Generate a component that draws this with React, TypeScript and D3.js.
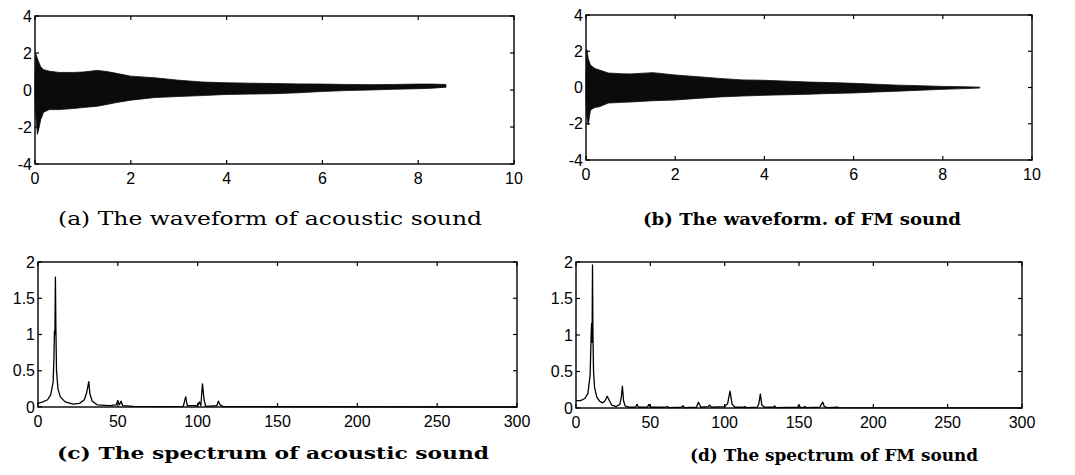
import React from "react";
import * as d3 from "d3";

// ---------- data ----------
const waveTicksX = [0, 2, 4, 6, 8, 10];
const waveTicksY = [-4, -2, 0, 2, 4];
const specTicksX = [0, 50, 100, 150, 200, 250, 300];
const specTicksY = [0, 0.5, 1, 1.5, 2];
const specTickLabelsY = ["0", "0.5", "1", "1.5", "2"];

// (a) acoustic waveform envelope
const waveATime = [0, 0.02, 0.05, 0.08, 0.12, 0.18, 0.3, 0.5, 0.8, 1.0, 1.3, 1.5, 1.7, 2.0, 2.5, 3.0, 3.5, 4.0, 4.5, 5.0, 5.5, 6.0, 6.5, 7.0, 7.5, 8.0, 8.3, 8.58];
const waveAUpper = [0.4, 1.93, 1.7, 1.5, 1.25, 1.1, 1.02, 0.95, 0.95, 0.97, 1.06, 1.0, 0.9, 0.75, 0.66, 0.53, 0.43, 0.39, 0.37, 0.35, 0.33, 0.32, 0.3, 0.29, 0.3, 0.32, 0.32, 0.3];
const waveALower = [-0.4, -1.5, -2.4, -2.1, -1.6, -1.2, -1.06, -1.06, -1.0, -0.95, -0.88, -0.78, -0.68, -0.55, -0.41, -0.35, -0.3, -0.24, -0.22, -0.2, -0.15, -0.08, -0.03, 0.0, 0.04, 0.07, 0.1, 0.15];

// (b) FM waveform envelope
const waveBTime = [0, 0.02, 0.05, 0.1, 0.2, 0.3, 0.5, 0.8, 1.0, 1.5, 2.0, 2.5, 3.0, 3.5, 4.0, 4.5, 5.0, 5.5, 6.0, 6.5, 7.0, 7.5, 8.0, 8.5, 8.83];
const waveBUpper = [0.5, 2.07, 1.6, 1.24, 1.05, 0.97, 0.8, 0.76, 0.75, 0.82, 0.69, 0.6, 0.5, 0.42, 0.4, 0.35, 0.3, 0.27, 0.23, 0.18, 0.13, 0.1, 0.06, 0.04, 0.02];
const waveBLower = [-0.5, -1.6, -2.07, -1.24, -1.1, -1.06, -0.86, -0.82, -0.8, -0.73, -0.69, -0.6, -0.52, -0.47, -0.43, -0.4, -0.37, -0.33, -0.3, -0.25, -0.2, -0.15, -0.1, -0.06, -0.03];

// (c) acoustic spectrum
const specCFreq = [0, 3, 6, 8, 9.5, 10.0, 10.3, 10.6, 10.9, 11.2, 11.6, 12.5, 14, 17, 22, 26, 29, 30.5, 31.8, 32.5, 34, 37, 45, 49, 50, 51, 52, 53, 60, 80, 91, 92.5, 93.5, 100, 101, 102, 103, 104, 105, 112, 113, 114, 116, 300];
const specCMag = [0.05, 0.07, 0.1, 0.17, 0.35, 0.7, 1.05, 1.0, 1.79, 1.1, 0.5, 0.25, 0.14, 0.07, 0.04, 0.05, 0.1, 0.2, 0.35, 0.18, 0.08, 0.03, 0.02, 0.03, 0.09, 0.03, 0.08, 0.02, 0.01, 0.005, 0.01, 0.14, 0.02, 0.02, 0.07, 0.02, 0.32, 0.1, 0.01, 0.02, 0.08, 0.03, 0.005, 0.0];

// (d) FM spectrum
const specDFreq = [0, 3, 6, 8, 9.5, 10.2, 10.5, 10.8, 11.1, 11.4, 11.8, 12.5, 14, 16, 18, 19.5, 21, 22.5, 24, 27, 29.5, 30.5, 31.2, 32, 33, 36, 40, 41, 42, 48, 49, 50, 60.5, 61.5, 62.5, 71, 72, 73, 81, 82.4, 84, 89, 90, 91, 100, 102, 103.6, 105, 107, 113, 113.6, 114.5, 122, 123, 124, 125, 127, 133, 133.6, 134.5, 149, 150, 151, 153.5, 154, 155, 164, 165, 166, 167, 169, 176, 177, 300];
const specDMag = [0.1, 0.1, 0.13, 0.2, 0.45, 1.0, 1.16, 0.9, 1.96, 1.0, 0.5, 0.28, 0.15, 0.09, 0.07, 0.1, 0.16, 0.1, 0.04, 0.02, 0.05, 0.15, 0.3, 0.1, 0.03, 0.01, 0.01, 0.05, 0.01, 0.01, 0.05, 0.01, 0.01, 0.02, 0.005, 0.01, 0.03, 0.005, 0.01, 0.08, 0.01, 0.02, 0.04, 0.01, 0.02, 0.06, 0.23, 0.05, 0.01, 0.01, 0.02, 0.005, 0.01, 0.06, 0.19, 0.04, 0.01, 0.01, 0.03, 0.005, 0.01, 0.04, 0.005, 0.01, 0.02, 0.005, 0.01, 0.05, 0.08, 0.02, 0.005, 0.01, 0.005, 0.003];

const captions = [
  "(a)  The waveform of acoustic sound",
  "(b) The waveform. of FM sound",
  "(c) The spectrum of acoustic sound",
  "(d) The spectrum of FM sound",
];

// ---------- layout ----------
type Box = { x0: number; x1: number; y0: number; y1: number };
const boxA: Box = { x0: 35, x1: 514, y0: 16, y1: 164 };
const boxB: Box = { x0: 586, x1: 1032, y0: 15, y1: 160 };
const boxC: Box = { x0: 38, x1: 517, y0: 262, y1: 407 };
const boxD: Box = { x0: 576, x1: 1022, y0: 262, y1: 408 };

const tickFont = "'Liberation Sans', Arial, sans-serif";
const capFont = "'DejaVu Serif', 'Liberation Serif', serif";

function Frame({ box, xs, ys, xTicks, yTicks, yLabels }: any) {
  const tl = 4;
  return (
    <g>
      <rect x={box.x0} y={box.y0} width={box.x1 - box.x0} height={box.y1 - box.y0} fill="none" stroke="#000" strokeWidth={1.4} />
      {xTicks.map((t: number, i: number) => (
        <g key={"x" + i}>
          <line x1={xs(t)} x2={xs(t)} y1={box.y1} y2={box.y1 - tl} stroke="#000" strokeWidth={1.2} />
          <line x1={xs(t)} x2={xs(t)} y1={box.y0} y2={box.y0 + tl} stroke="#000" strokeWidth={1.2} />
          <text x={xs(t)} y={box.y1 + 20} textAnchor="middle" fontFamily={tickFont} fontSize={16} fill="#000">{String(t)}</text>
        </g>
      ))}
      {yTicks.map((t: number, i: number) => (
        <g key={"y" + i}>
          <line x1={box.x0} x2={box.x0 + tl} y1={ys(t)} y2={ys(t)} stroke="#000" strokeWidth={1.2} />
          <line x1={box.x1} x2={box.x1 - tl} y1={ys(t)} y2={ys(t)} stroke="#000" strokeWidth={1.2} />
          <text x={box.x0 - 3} y={ys(t) + 5.5} textAnchor="end" fontFamily={tickFont} fontSize={16} fill="#000">{yLabels ? yLabels[i] : String(t)}</text>
        </g>
      ))}
    </g>
  );
}

function WavePanel({ box, time, upper, lower }: any) {
  const xs = d3.scaleLinear().domain([0, 10]).range([box.x0, box.x1]);
  const ys = d3.scaleLinear().domain([-4, 4]).range([box.y1, box.y0]);
  const idx = d3.range(time.length);
  const area = d3
    .area<number>()
    .x((i) => xs(time[i]))
    .y0((i) => ys(lower[i]))
    .y1((i) => ys(upper[i]))
    .curve(d3.curveLinear);
  return (
    <g>
      <path d={area(idx) || ""} fill="#0b0b0b" stroke="#0b0b0b" strokeWidth={0.8} />
      <Frame box={box} xs={xs} ys={ys} xTicks={waveTicksX} yTicks={waveTicksY} />
    </g>
  );
}

function SpecPanel({ box, freq, mag }: any) {
  const xs = d3.scaleLinear().domain([0, 300]).range([box.x0, box.x1]);
  const ys = d3.scaleLinear().domain([0, 2]).range([box.y1, box.y0]);
  const idx = d3.range(freq.length);
  const line = d3
    .line<number>()
    .x((i) => xs(freq[i]))
    .y((i) => ys(mag[i]))
    .curve(d3.curveLinear);
  return (
    <g>
      <path d={line(idx) || ""} fill="none" stroke="#000" strokeWidth={1.3} strokeLinejoin="round" />
      <Frame box={box} xs={xs} ys={ys} xTicks={specTicksX} yTicks={specTicksY} yLabels={specTickLabelsY} />
    </g>
  );
}

export default function App() {
  return (
    <svg width={1075} height={475} viewBox="0 0 1075 475" style={{ position: "absolute", left: 0, top: 0, background: "#fff" }}>
      <rect x={0} y={0} width={1075} height={475} fill="#fff" />
      <WavePanel box={boxA} time={waveATime} upper={waveAUpper} lower={waveALower} />
      <WavePanel box={boxB} time={waveBTime} upper={waveBUpper} lower={waveBLower} />
      <SpecPanel box={boxC} freq={specCFreq} mag={specCMag} />
      <SpecPanel box={boxD} freq={specDFreq} mag={specDMag} />
      <text x={58} y={225} fontFamily={capFont} fontSize={18} textLength={424} lengthAdjust="spacingAndGlyphs" fill="#000">{captions[0]}</text>
      <text x={643} y={225} fontFamily={capFont} fontSize={17} fontWeight="bold" textLength={318} lengthAdjust="spacingAndGlyphs" fill="#000">{captions[1]}</text>
      <text x={57} y={459} fontFamily={capFont} fontSize={17} fontWeight="bold" textLength={432} lengthAdjust="spacingAndGlyphs" fill="#000">{captions[2]}</text>
      <text x={690} y={461} fontFamily={capFont} fontSize={17} fontWeight="bold" textLength={288} lengthAdjust="spacingAndGlyphs" fill="#000">{captions[3]}</text>
    </svg>
  );
}
